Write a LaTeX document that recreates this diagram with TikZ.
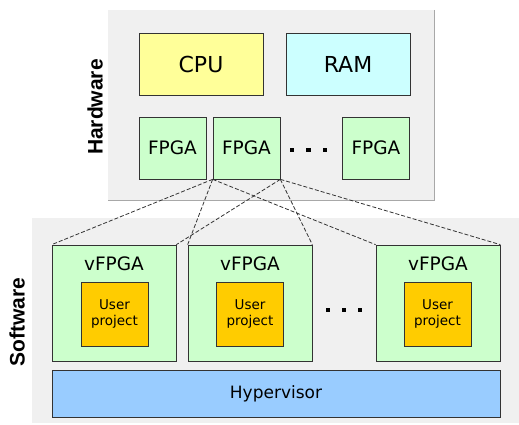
\documentclass[tikz,border=0pt]{standalone}
\usepackage{fontspec}
\setmainfont{DejaVu Sans}
\newfontfamily\labelfont{Liberation Sans}
\usepackage{xcolor}
\definecolor{panelgray}{HTML}{F0F0F0}
\definecolor{paneledge}{HTML}{A8A8A8}
\definecolor{cpuyellow}{HTML}{FFFF99}
\definecolor{ramcyan}{HTML}{CCFFFF}
\definecolor{fpgagreen}{HTML}{CCFFCC}
\definecolor{userorange}{HTML}{FFCC00}
\definecolor{hypblue}{HTML}{99CCFF}
\definecolor{edgedark}{HTML}{333333}
\usetikzlibrary{backgrounds}
\tikzset{
  panel/.style ={rectangle, fill=panelgray, inner sep=0pt},
  hbox/.style  ={rectangle, draw=edgedark, line width=0.7pt, align=center, inner sep=2pt},
  cpubox/.style ={hbox, fill=cpuyellow, minimum width=124pt, minimum height=62pt, font=\fontsize{22}{24}\selectfont},
  rambox/.style ={hbox, fill=ramcyan, minimum width=124pt, minimum height=62pt, font=\fontsize{22}{24}\selectfont},
  fpgabox/.style={hbox, fill=fpgagreen, minimum width=67pt, minimum height=62pt, font=\fontsize{18.5}{20}\selectfont},
  vbox/.style   ={hbox, fill=fpgagreen, minimum width=124pt, minimum height=116pt},
  vlbl/.style   ={font=\fontsize{18.5}{20}\selectfont, inner sep=0pt},
  ubox/.style   ={hbox, fill=userorange, minimum width=67pt, minimum height=64pt, font=\fontsize{13.5}{16}\selectfont},
  hvbox/.style  ={hbox, fill=hypblue, minimum width=448pt, minimum height=47pt, font=\fontsize{17}{19}\selectfont},
  sidelbl/.style={font=\labelfont\bfseries\fontsize{21}{22}\selectfont, rotate=90, inner sep=0pt},
  dotsq/.style  ={rectangle, fill=black, minimum size=4.5pt, inner sep=0pt},
  klink/.style  ={dash pattern=on 4pt off 2pt, line width=0.8pt, color=edgedark},
}
\begin{document}
\begin{tikzpicture}[x=1pt, y=-1pt]
  \useasboundingbox (0,0) rectangle (519,425);
  % panels
  \node[panel, minimum width=326pt, minimum height=190pt] (hw) at (271,105) {};
  \draw[paneledge, line width=0.8pt] (hw.north east) -- (hw.south east) -- (hw.south west);
  \node[panel, minimum width=487pt, minimum height=205pt] (sw) at (275.5,320.5) {};
  \node[sidelbl] (hwlbl) at (95,107) {Hardware};
  \node[sidelbl] (swlbl) at (17,322) {Software};
  % hardware
  \node[cpubox] (cpu) at (201,64) {CPU};
  \node[rambox] (ram) at (348,64) {RAM};
  \node[fpgabox] (f1) at (172.5,148) {FPGA};
  \node[fpgabox] (f2) at (246.5,148) {FPGA};
  \node[fpgabox] (f3) at (376,148) {FPGA};
  \foreach \x in {292,308.5,325} \node[dotsq] at (\x,150) {};
  % software
  \foreach \i/\x/\ux in {1/114/114.5, 2/250/250, 3/438/437.5} {
    \node[vbox] (v\i) at (\x,303) {};
    \node[vlbl] (v\i lbl) at (\x,264) {vFPGA};
    \node[ubox] (u\i) at (\ux,314) {User\\project};
  }
  \foreach \x in {328,344,360} \node[dotsq] at (\x,310) {};
  \node[hvbox] (hyp) at (276,393.5) {Hypervisor};
  % links from the FPGA to the vFPGAs
  \foreach \i in {1,2,3} {
    \draw[klink] (f2.south west) -- (v\i.north west);
    \draw[klink] (f2.south east) -- (v\i.north east);
  }
\end{tikzpicture}
\end{document}
